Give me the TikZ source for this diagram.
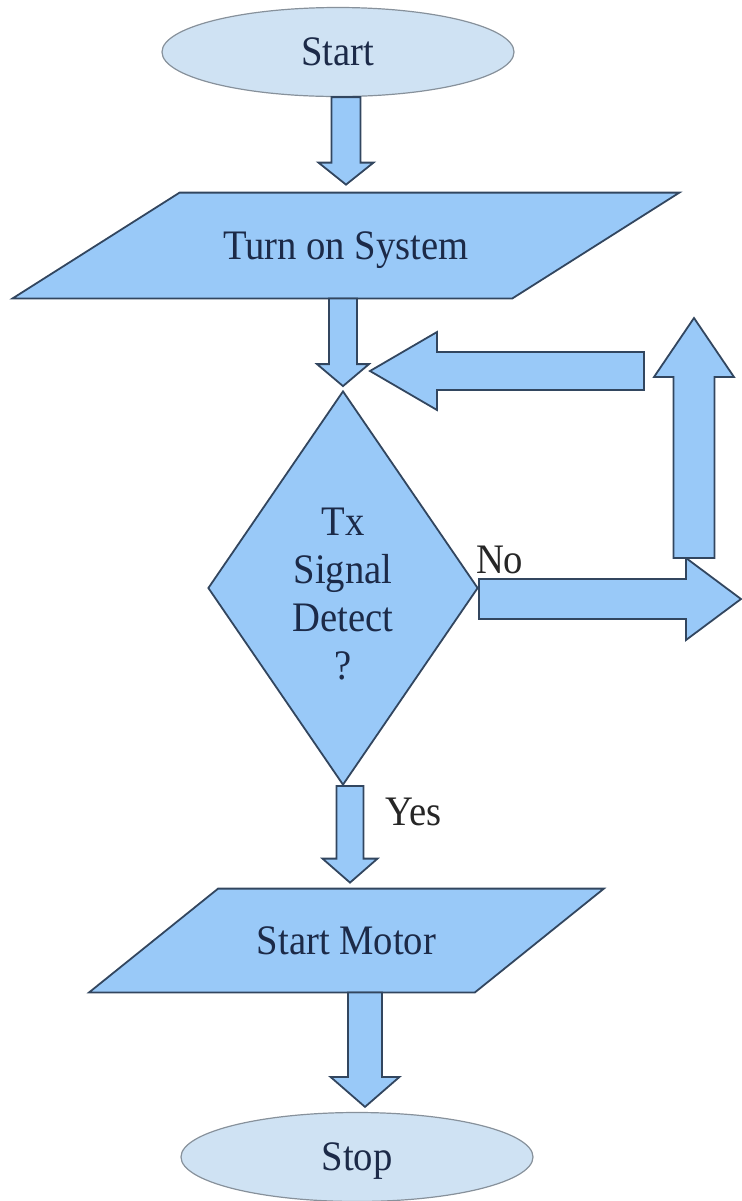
\documentclass[tikz,border=0pt]{standalone}
\usepackage{fontspec}
\setmainfont{Liberation Serif}[FakeStretch=0.92]
\usepackage{tikz}
\usetikzlibrary{calc,shapes.geometric}
\definecolor{boxblue}{RGB}{153,201,248}
\definecolor{termblue}{RGB}{207,226,243}
\definecolor{edgeblue}{RGB}{50,70,95}
\definecolor{termedge}{RGB}{135,145,155}
\definecolor{txtblue}{RGB}{28,42,72}
\pgfdeclarelayer{bg}
\pgfsetlayers{bg,main}
% #1 from, #2 tip, #3 half shaft, #4 half head, #5 head length
\newcommand{\blockarrow}[5]{%
\draw[blockarr] ($(#1)!#3!90:(#2)$) -- ($(#2)!#5!(#1)!#3!-90:(#1)$) -- ($(#2)!#5!(#1)!#4!-90:(#1)$) -- (#2) -- ($(#2)!#5!(#1)!#4!90:(#1)$) -- ($(#2)!#5!(#1)!#3!90:(#1)$) -- ($(#1)!#3!-90:(#2)$) -- cycle;}

\begin{document}
\begin{tikzpicture}[x=0.5pt,y=-0.5pt,
  font=\fontsize{21}{24}\selectfont,
  terminal/.style={ellipse, draw=termedge, fill=termblue, line width=0.6pt, inner sep=0pt, minimum width=176pt, minimum height=44.5pt, text=txtblue, text depth=0pt},
  iotext/.style={rectangle, inner sep=0pt, text=txtblue},
  iobox/.style={draw=edgeblue, fill=boxblue, line width=0.9pt},
  decision/.style={diamond, draw=edgeblue, fill=boxblue, line width=0.9pt, inner sep=0pt, minimum width=135pt, minimum height=197pt},
  blockarr/.style={draw=edgeblue, fill=boxblue, line width=0.9pt},
  answer/.style={text=black!85}]
\useasboundingbox (0,0) rectangle (741,1201);
\node [terminal] (start) at (338,52) {Start};
\node [iotext, text depth=0pt, minimum width=249.5pt, minimum height=52.5pt] (turn) at (346,245.5) {Turn on System};
\node [decision] (det) at (343,588) {};
\node [iotext, align=center] (dettxt) at (343,594) {Tx\\Signal\\Detect\\?};
\node [iotext, text depth=0pt, minimum width=192.5pt, minimum height=51.5pt] (motor) at (346.5,940.5) {Start Motor};
\node [terminal] (stop) at (357,1157) {Stop};
\node [answer, anchor=base west] (no) at (469,573) {No};
\node [answer, anchor=base west] (yes) at (378,825) {Yes};
\begin{pgfonlayer}{bg}
\draw [iobox] ($(turn.north west)+(83.5,0)$) -- ($(turn.north east)+(83.5,0)$) -- ($(turn.south east)+(-83.5,0)$) -- ($(turn.south west)+(-83.5,0)$) -- cycle;
\draw [iobox] ($(motor.north west)+(64.5,0)$) -- ($(motor.north east)+(64.5,0)$) -- ($(motor.south east)+(-64.5,0)$) -- ($(motor.south west)+(-64.5,0)$) -- cycle;
\end{pgfonlayer}
\coordinate (a1s) at (turn.north |- start.south);
\coordinate (a1e) at ($(turn.north)+(0,-8)$);
\coordinate (a2s) at (turn.south -| det.north);
\coordinate (a2e) at ($(det.north)+(0,-4)$);
\coordinate (a4e) at (741,599);
\coordinate (a4s) at (det.east |- a4e);
\coordinate (a5s) at (694,558);
\coordinate (a5e) at (694,318);
\coordinate (a3s) at (644,371);
\coordinate (a3e) at (370,371);
\coordinate (a6s) at ($(det.south)+(7,0)$);
\coordinate (a6e) at ($(motor.north)+(3.5,-6)$);
\coordinate (a7s) at ($(motor.south)+(18.5,0)$);
\coordinate (a7e) at ($(stop.north)+(8,-5)$);
\blockarrow{a1s}{a1e}{7.25pt}{13.75pt}{11pt}
\blockarrow{a2s}{a2e}{7pt}{13pt}{11pt}
\blockarrow{a4s}{a4e}{10pt}{20.5pt}{27.5pt}
\blockarrow{a5s}{a5e}{10.25pt}{20pt}{29.5pt}
\blockarrow{a3s}{a3e}{9.5pt}{19.5pt}{33.5pt}
\blockarrow{a6s}{a6e}{6.75pt}{13.75pt}{12pt}
\blockarrow{a7s}{a7e}{8.5pt}{17.25pt}{15pt}
\end{tikzpicture}
\end{document}
